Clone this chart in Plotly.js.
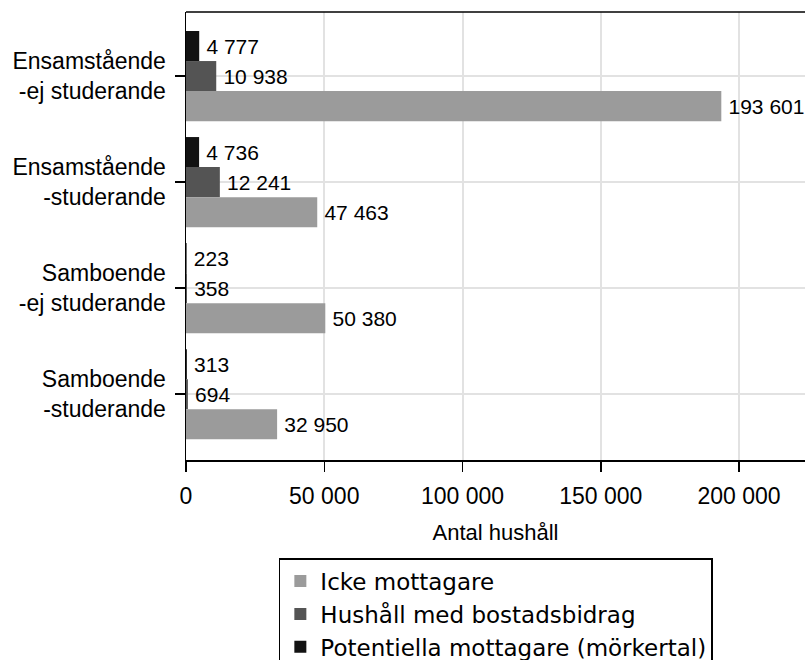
<!DOCTYPE html>
<html>
<head>
<meta charset="utf-8">
<script src="https://cdn.plot.ly/plotly-3.0.1.min.js"></script>
<style>html,body{margin:0;padding:0;background:#fff;overflow:hidden}</style>
</head>
<body>
<div id="chart" style="width:805px;height:660px"></div>
<script>
const categories = [
  "Ensamstående<br>-ej studerande",
  "Ensamstående<br>-studerande",
  "Samboende<br>-ej studerande",
  "Samboende<br>-studerande"
];
const seriesNames = [
  "Potentiella mottagare (mörkertal)",
  "Hushåll med bostadsbidrag",
  "Icke mottagare"
];
const potentiella = [4777, 4736, 223, 313];
const bostadsbidrag = [10938, 12241, 358, 694];
const ickeMottagare = [193601, 47463, 50380, 32950];
const xTicks = [0, 50000, 100000, 150000, 200000];
const xTitle = "Antal hushåll";

const values = [potentiella, bostadsbidrag, ickeMottagare];
const colors = ["#121212", "#545454", "#9b9b9b"];
const font = "Liberation Sans, Arial, sans-serif";

const traces = values.map((v, i) => ({
  type: "bar",
  orientation: "h",
  name: seriesNames[i],
  y: categories,
  x: v,
  marker: {color: colors[i], line: {width: 0}},
  texttemplate: "\u2009%{x:,}",
  textposition: "outside",
  constraintext: "none",
  cliponaxis: false,
  textfont: {family: font, size: 21, color: "#000"}
}));

const layout = {
  width: 805,
  height: 660,
  margin: {l: 186, r: 0, t: 12, b: 200, autoexpand: false},
  paper_bgcolor: "#fff",
  plot_bgcolor: "#fff",
  separators: ", ",
  barmode: "group",
  bargap: 0.15,
  bargroupgap: 0,
  font: {family: font, color: "#000"},
  showlegend: true,
  legend: {
    x: 0.15, xanchor: "left",
    y: -0.219, yanchor: "top",
    traceorder: "reversed",
    bgcolor: "#fff",
    bordercolor: "#000",
    borderwidth: 1.5,
    font: {family: "DejaVu Sans, sans-serif", size: 23, color: "#000"},
    itemwidth: 30
  },
  xaxis: {
    range: [0, 223870],
    tickvals: xTicks,
    tickformat: ",",
    showgrid: true,
    gridcolor: "#e2e2e2",
    gridwidth: 2,
    zeroline: false,
    showline: true,
    linecolor: "#000",
    linewidth: 1.5,
    ticks: "outside",
    ticklen: 10,
    tickcolor: "#000",
    tickwidth: 1.5,
    ticklabelstandoff: 5,
    tickfont: {family: font, size: 23, color: "#000"},
    title: {text: xTitle, font: {family: font, size: 22, color: "#000"}, standoff: 16}
  },
  yaxis: {
    type: "category",
    range: [3.62, -0.604],
    showgrid: true,
    gridcolor: "#e2e2e2",
    gridwidth: 2,
    zeroline: false,
    showline: true,
    linecolor: "#000",
    linewidth: 1.5,
    ticks: "outside",
    ticklen: 10,
    tickcolor: "#000",
    tickwidth: 1.5,
    ticklabelstandoff: 4,
    tickfont: {family: font, size: 23, color: "#000"}
  },
  shapes: [{
    type: "line", xref: "paper", yref: "paper",
    x0: 0, x1: 1, y0: 1, y1: 1,
    line: {color: "#000", width: 1.5}
  }]
};

Plotly.newPlot("chart", traces, layout, {staticPlot: true, displayModeBar: false});
</script>
</body>
</html>
